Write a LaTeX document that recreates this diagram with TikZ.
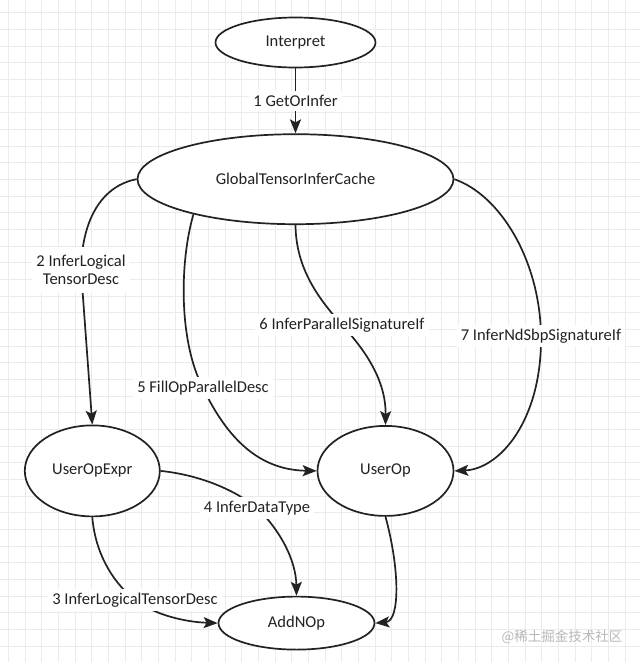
\documentclass[tikz,border=0pt]{standalone}
\usepackage{fontspec}
\setmainfont{Carlito}
\newfontfamily\cjkfont{Noto Sans CJK SC}
\usepackage{xcolor}
\usepackage{tikz}
\usetikzlibrary{shapes.geometric, arrows.meta, positioning}
\definecolor{ink}{HTML}{222222}

\begin{document}
\begin{tikzpicture}[
    x=1pt, y=-1pt,
    state/.style={ellipse, draw=ink, line width=1.7pt, fill=white, inner sep=0pt, font=\fontsize{16.5}{18}\selectfont, text=ink},
    arrow/.style={-{Stealth[length=14pt, width=11pt, inset=3pt]}, line width=1.7pt, draw=ink},
    edgelabel/.style={fill=white, inner sep=4pt, font=\fontsize{16.5}{18}\selectfont, text=ink, align=center},
    gridline/.style={draw=black!8, line width=0.6pt}
]
    % Background grid
    \useasboundingbox (0,0) rectangle (640,662);
    \fill[white] (0,0) rectangle (640,662);
    \foreach \i in {0,...,38} {\draw[gridline] ({8.3+16.67*\i},0) -- ({8.3+16.67*\i},662);}
    \foreach \j in {0,...,39} {\draw[gridline] (0,{12.5+16.67*\j}) -- (640,{12.5+16.67*\j});}

    % States
    \node[state, minimum width=160pt, minimum height=50pt] (interpret) at (295.5,42.5) {Interpret};
    \node[state, minimum width=316pt, minimum height=90pt, below=65pt of interpret] (cache) {GlobalTensorInferCache};
    \node[state, minimum width=136pt, minimum height=90pt, below=200pt of cache, xshift=90pt] (userop) {UserOp};
    \node[state, minimum width=135pt, minimum height=91pt, left=156pt of userop] (expr) {UserOpExpr};
    \node[state, minimum width=156pt, minimum height=53pt, below=79pt of userop, xshift=-89pt] (addnop) {AddNOp};

    % Calls
    \draw[arrow] (interpret) -- node[edgelabel] {1 GetOrInfer} (cache);
    \draw[arrow] (cache.west) .. controls (105,185) and (82,215) .. (81,270)
        node[edgelabel, inner ysep=8pt] {2 InferLogical\\TensorDesc} -- (expr.north);
    \draw[arrow] (cache.199) .. controls (180,260) and (178,340) .. (203,388)
        node[edgelabel] {5 FillOpParallelDesc} .. controls (228,440) and (260,470) .. (userop.west);
    \draw[arrow] (cache.south) .. controls (296,270) and (320,300) .. (342,325)
        node[edgelabel] {6 InferParallelSignatureIf} .. controls (365,350) and (386,380) .. (userop.north);
    \draw[arrow] (cache.east) .. controls (500,195) and (540,260) .. (541,336)
        node[edgelabel] {7 InferNdSbpSignatureIf} .. controls (542,420) and (500,469) .. (userop.east);
    \draw[arrow] (expr.east) .. controls (200,475) and (235,490) .. (257,508)
        node[edgelabel] {4 InferDataType} .. controls (280,530) and (296,560) .. (addnop.north);
    \draw[arrow] (expr.south) .. controls (95,550) and (110,580) .. (135,600)
        node[edgelabel] {3 InferLogicalTensorDesc} .. controls (155,615) and (185,622) .. (addnop.west);
    \draw[arrow] (userop.south) .. controls (400,570) and (400,621) .. (addnop.east);

    % Watermark
    \node[font=\cjkfont\fontsize{13.5}{14}\selectfont, text=black!28] (mark) at (562,637) {@稀土掘金技术社区};
\end{tikzpicture}
\end{document}
